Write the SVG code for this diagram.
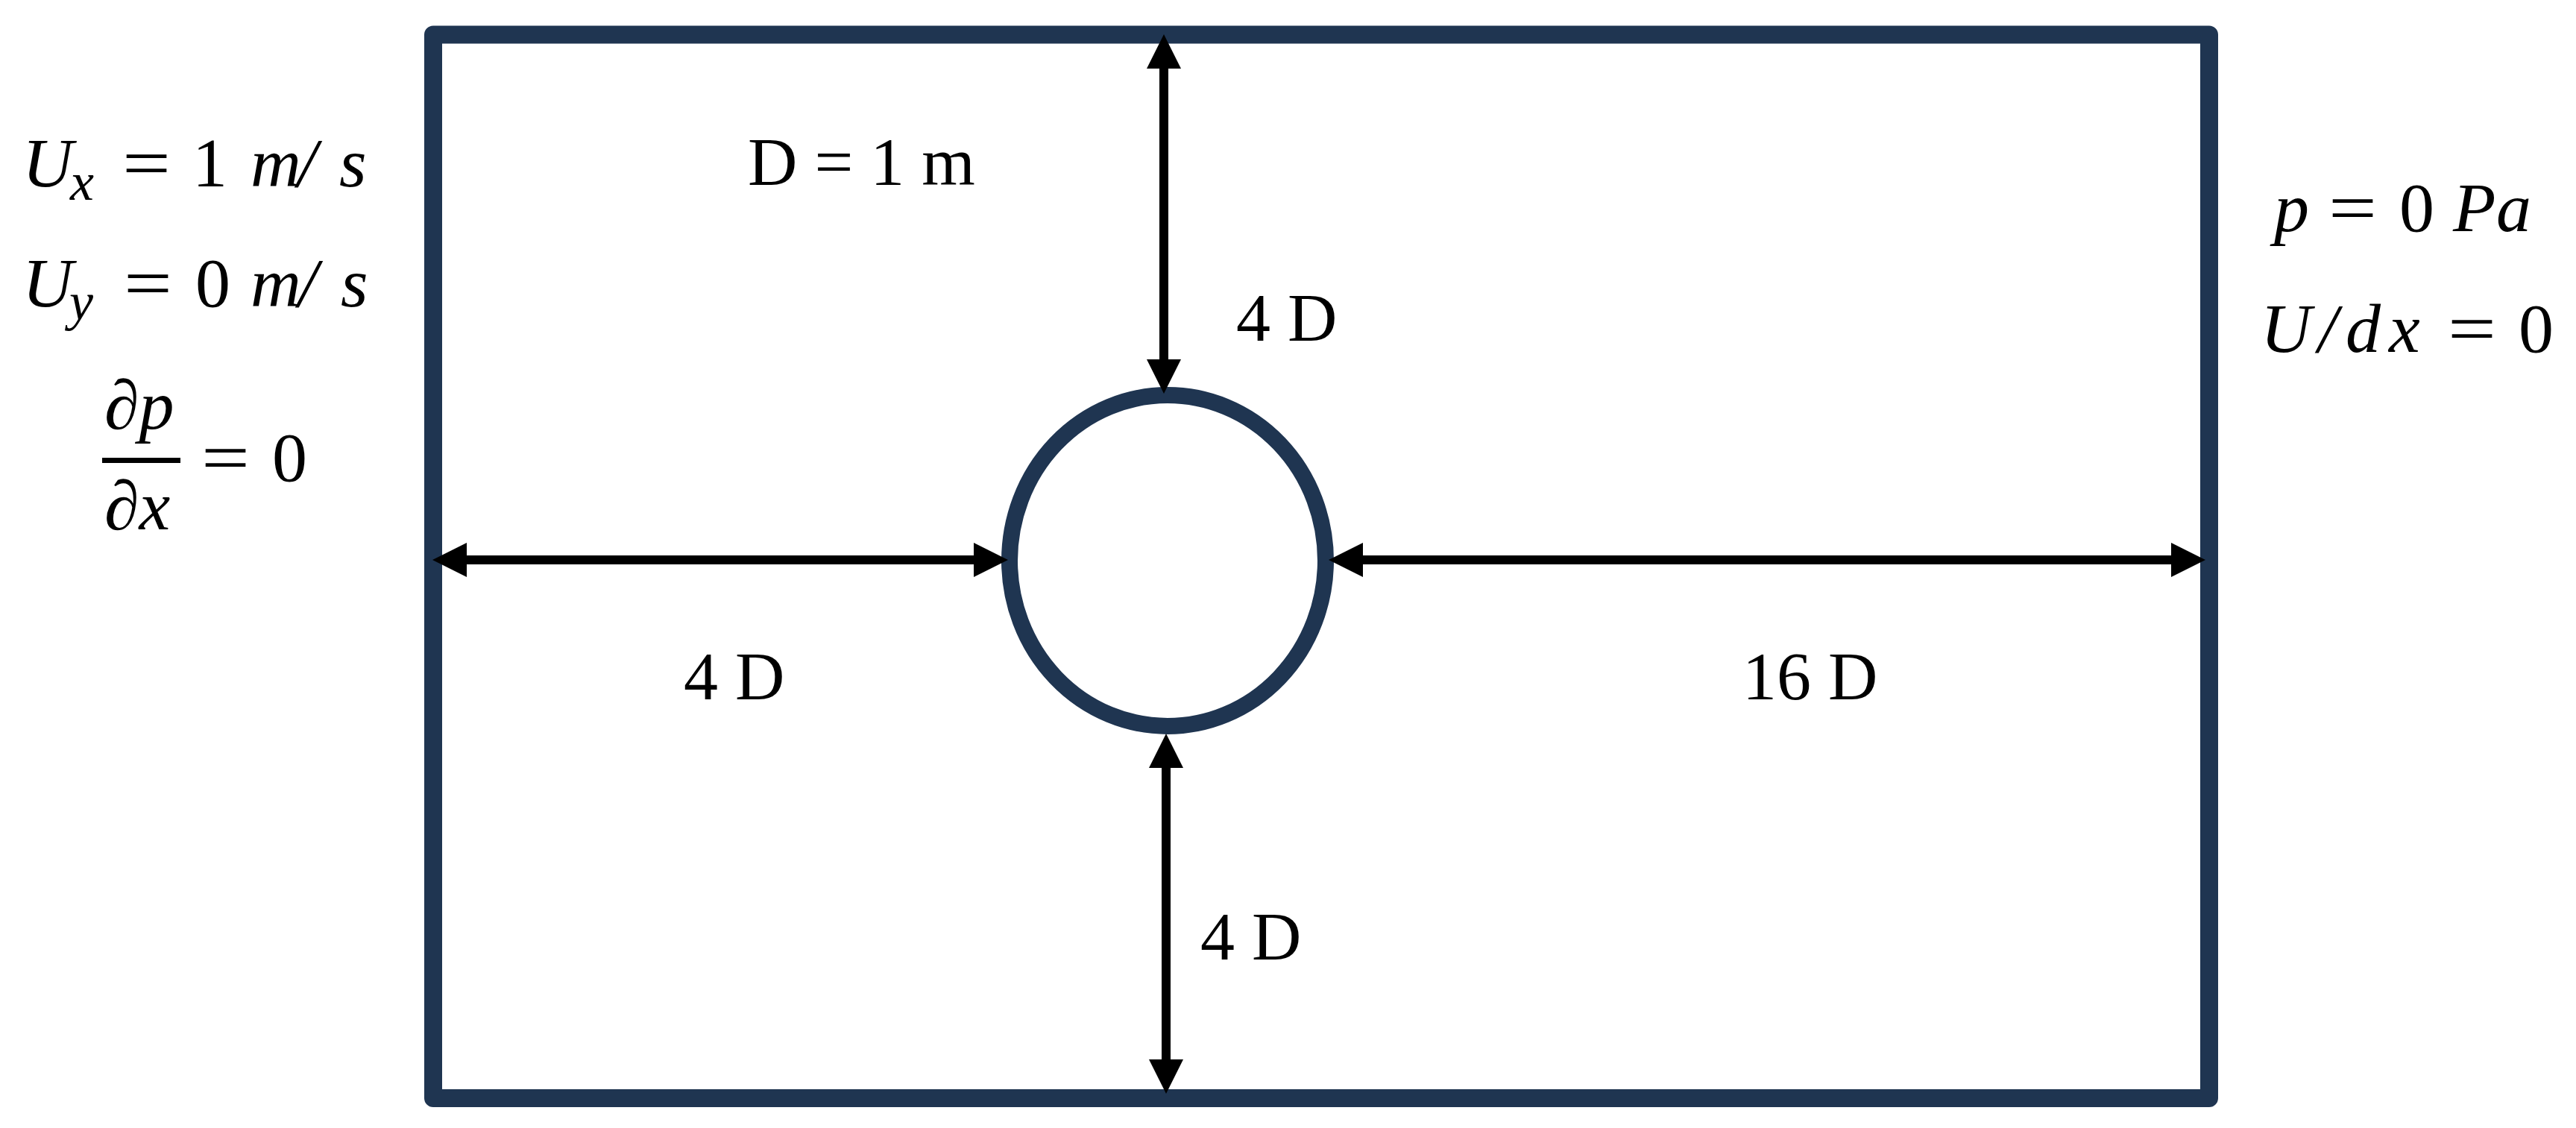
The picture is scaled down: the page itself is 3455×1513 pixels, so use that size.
<svg xmlns="http://www.w3.org/2000/svg" width="3455" height="1513" viewBox="0 0 3455 1513">
  <style>
    .frame { fill: #ffffff; stroke: #1f3551; stroke-width: 24; stroke-linejoin: round; }
    .cyl { fill: #ffffff; stroke: #1f3551; stroke-width: 22; }
    .dim { stroke: #000000; stroke-width: 12; fill: none; marker-start: url(#head); marker-end: url(#head); }
    .lbl { font-family: "Liberation Serif", "Times New Roman", serif; font-size: 92px; fill: #000000; }
    .m { font-family: "Liberation Serif", "Times New Roman", serif; font-size: 94px; fill: #000000; }
    .i { font-style: italic; }
    .sub { font-size: 72px; }
  </style>
  <defs>
    <marker id="head" markerUnits="userSpaceOnUse" markerWidth="46" markerHeight="46" viewBox="0 0 46 46" refX="0" refY="23" orient="auto-start-reverse">
      <path d="M0,0 L46,23 L0,46 Z" fill="#000000"/>
    </marker>
  </defs>
  <rect width="3455" height="1513" fill="#ffffff"/>

  <g id="domain">
    <rect class="frame" x="581" y="46.5" width="2382" height="1426.5"/>
  </g>

  <g id="cylinder">
    <ellipse class="cyl" cx="1566" cy="752" rx="212" ry="222"/>
  </g>

  <g id="connectors">
    <line class="dim" x1="626" y1="751" x2="1306" y2="751"/>
    <line class="dim" x1="1828" y1="751" x2="2912" y2="751"/>
    <line class="dim" x1="1561" y1="92" x2="1561" y2="482"/>
    <line class="dim" x1="1564" y1="1030" x2="1564" y2="1421"/>
  </g>

  <g id="dim-labels">
    <text class="lbl" x="1003" y="248">D = 1 m</text>
    <text class="lbl" x="1658" y="457">4 D</text>
    <text class="lbl" x="917" y="938">4 D</text>
    <text class="lbl" x="2337" y="938">16 D</text>
    <text class="lbl" x="1610" y="1287">4 D</text>
  </g>

  <g id="inlet-conditions">
    <text class="m i" x="30" y="250">U</text>
    <text class="m i sub" x="94" y="268">x</text>
    <text class="m" x="164" y="250" textLength="65" lengthAdjust="spacingAndGlyphs">=</text>
    <text class="m" x="258" y="250">1</text>
    <text class="m i" x="336" y="250">m</text>
    <text class="m i" x="399" y="250">/</text>
    <text class="m i" x="455" y="250">s</text>

    <text class="m i" x="30" y="411">U</text>
    <text class="m i sub" x="93" y="429">y</text>
    <text class="m" x="166" y="411" textLength="65" lengthAdjust="spacingAndGlyphs">=</text>
    <text class="m" x="262" y="411">0</text>
    <text class="m i" x="336" y="411">m</text>
    <text class="m i" x="400" y="411">/</text>
    <text class="m i" x="457" y="411">s</text>

    <text class="m i" x="140" y="575">∂p</text>
    <rect x="137" y="614" width="105" height="7" fill="#000000"/>
    <text class="m i" x="140" y="710">∂x</text>
    <text class="m" x="270" y="645" textLength="65" lengthAdjust="spacingAndGlyphs">=</text>
    <text class="m" x="365" y="645">0</text>
  </g>

  <g id="outlet-conditions">
    <text class="m i" x="3050" y="310">p</text>
    <text class="m" x="3123" y="310" textLength="65" lengthAdjust="spacingAndGlyphs">=</text>
    <text class="m" x="3218" y="310">0</text>
    <text class="m i" x="3290" y="310">P</text>
    <text class="m i" x="3348" y="310">a</text>

    <text class="m i" x="3032" y="472">U</text>
    <text class="m i" x="3109" y="472">/</text>
    <text class="m i" x="3146" y="472">d</text>
    <text class="m i" x="3204" y="472">x</text>
    <text class="m" x="3283" y="472" textLength="65" lengthAdjust="spacingAndGlyphs">=</text>
    <text class="m" x="3378" y="472">0</text>
  </g>
</svg>
